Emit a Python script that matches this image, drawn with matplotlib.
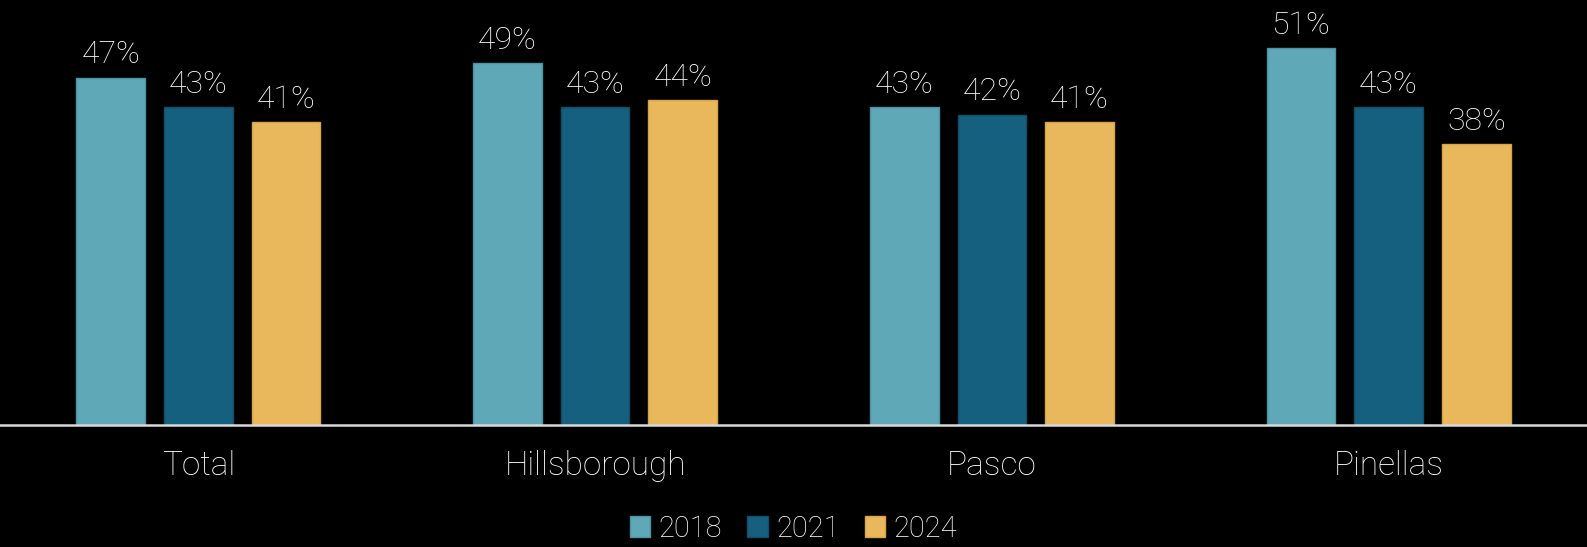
import numpy as np
import matplotlib.pyplot as plt

plt.rcParams['font.family'] = ['Roboto', 'DejaVu Sans']
plt.rcParams['font.weight'] = 'light'

categories = ['Total', 'Hillsborough', 'Pasco', 'Pinellas']
years = ['2018', '2021', '2024']
v2018 = [47, 49, 43, 51]
v2021 = [43, 43, 42, 43]
v2024 = [41, 44, 41, 38]

colors = ['#5FA8B8', '#16607F', '#EAB85C']
edges = ['#4E93A3', '#0F4F6A', '#D9A54A']

fig = plt.figure(figsize=(15.87, 5.47), dpi=100, facecolor='black')
ax = fig.add_axes([0, 0.223, 1, 0.777], facecolor='black')

x = np.arange(len(categories))
width = 0.173
offset = 0.221

for i, (vals, yr) in enumerate(zip([v2018, v2021, v2024], years)):
    bars = ax.bar(x + (i - 1) * offset, vals, width, color=colors[i],
                  edgecolor=edges[i], linewidth=1, label=yr, zorder=2)
    for b, v in zip(bars, vals):
        ax.text(b.get_x() + b.get_width() / 2, v + 1.1, f'{v}%',
                ha='center', va='bottom', color='white', fontsize=23)

ax.set_xlim(-0.5, 3.5)
ax.set_ylim(0, 57.5)
ax.set_yticks([])
ax.set_xticks(x)
ax.set_xticklabels(categories, color='white', fontsize=24)
ax.tick_params(axis='x', length=0, pad=18)
for s in ['top', 'right', 'left']:
    ax.spines[s].set_visible(False)
ax.spines['bottom'].set_color('#D9D9D9')
ax.spines['bottom'].set_linewidth(1.8)
ax.spines['bottom'].set_zorder(3)

leg = fig.legend(loc='lower center', bbox_to_anchor=(0.5, -0.04), ncol=3,
                 frameon=False, fontsize=21, handlelength=0.7, handleheight=0.7,
                 handletextpad=0.3, columnspacing=0.85)
for t in leg.get_texts():
    t.set_color('white')

fig.savefig('out.png', dpi=100, facecolor='black')
